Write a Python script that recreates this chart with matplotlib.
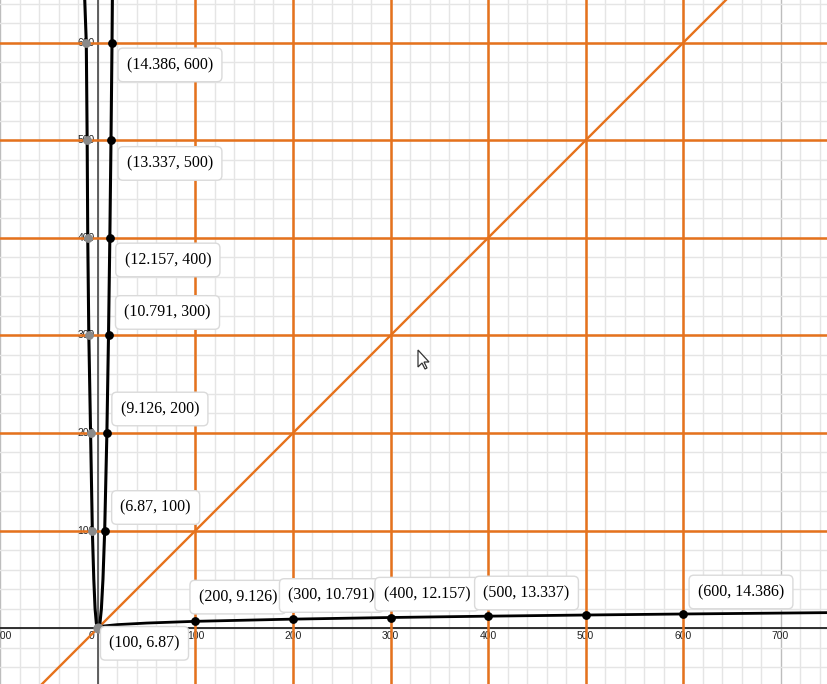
import matplotlib.pyplot as plt
from matplotlib.patches import Polygon

# values
levels = [100, 200, 300, 400, 500, 600]
f_vals = [6.87, 9.126, 10.791, 12.157, 13.337, 14.386]

# flat curve (x, f(x)) incl. estimated points near origin and at the right edge
low_x = [0, 5, 20, 50, 100, 200, 300, 400, 500, 600, 750]
low_y = [0, 2.0, 3.5, 5.1, 6.87, 9.126, 10.791, 12.157, 13.337, 14.386, 15.8]

# steep right branch is the same curve mirrored on y = x
right_x = low_y[:-1] + [14.8]
right_y = low_x[:-1] + [650]

# steep left branch
left_x = [0, -1.7, -3.0, -4.3, -5.8, -7.6, -9.4, -10.5, -11.1, -12.0, -13.8]
left_y = [0, 5, 20, 50, 100, 200, 300, 400, 500, 600, 650]

orange = '#e6721c'

fig = plt.figure(figsize=(8.28, 6.84), dpi=100)
ax = fig.add_axes([0, 0, 1, 1])
ax.set_xlim(-100.5, 748.7)
ax.set_ylim(-57.4, 644)
ax.axis('off')

# grid
for g in range(-100, 760, 20):
    c = '#bdbdbd' if g % 100 == 0 else '#e5e5e5'
    ax.axvline(g, color=c, lw=1, zorder=0)
for g in range(-40, 660, 20):
    c = '#bdbdbd' if g % 100 == 0 else '#e5e5e5'
    ax.axhline(g, color=c, lw=1, zorder=0)

# axes
ax.axhline(0, color='#222222', lw=1.3, zorder=1)
ax.axvline(0, color='#555555', lw=1.3, zorder=1)

# tick labels
tick_font = dict(fontsize=7.5, color='#222222', family='Liberation Sans', zorder=2)
for v in range(-100, 800, 100):
    if v == 0:
        continue
    ax.annotate(str(v).replace('-', '\u2212'), (v, 0), xytext=(0, -8),
                textcoords='offset pixels', ha='center', va='center', **tick_font)
ax.annotate('0', (0, 0), xytext=(-6, -8), textcoords='offset pixels',
            ha='center', va='center', **tick_font)
for v in levels:
    ax.annotate(str(v), (0, v), xytext=(-3, 0), textcoords='offset pixels',
                ha='right', va='center', **tick_font)

# orange lines
for v in levels:
    ax.axhline(v, color=orange, lw=1.8, zorder=3)
    ax.axvline(v, color=orange, lw=1.8, zorder=3)
ax.plot([-100.5, 748.7], [-100.5, 748.7], color=orange, lw=1.7, zorder=3)

# curves
ax.plot(low_x, low_y, color='black', lw=2, zorder=4)
ax.plot(right_x, right_y, color='black', lw=2.2, zorder=4)
ax.plot(left_x, left_y, color='black', lw=2.2, zorder=4)

# points
ax.scatter(levels, f_vals, s=28, color='black', zorder=5)
ax.scatter(f_vals, levels, s=28, color='black', zorder=5)
ax.scatter(left_x[4:10], levels, s=28, color='#8a8a8a', zorder=5)
ax.scatter([0], [0], s=40, color='#8a8a8a', zorder=5)

# labels
box = dict(boxstyle='round,pad=0.55,rounding_size=0.3', fc='white',
           ec='#dadada', lw=1)
vert_off = [(51, 23), (53, 24), (59, 23), (58, -22), (59, -23), (58, -22)]
for x, y, off in zip(f_vals, levels, vert_off):
    ax.annotate('(%s, %d)' % (x, y), (x, y), xytext=off,
                textcoords='offset pixels', ha='center', va='center',
                fontsize=11.5, family='Liberation Serif', bbox=box, zorder=6)
hor_off = [(-51, -22), (-55, 22), (-59, 22), (-61, 22), (-59, 22), (58, 22)]
for x, y, off in zip(levels, f_vals, hor_off):
    ax.annotate('(%d, %s)' % (x, y), (x, y), xytext=off,
                textcoords='offset pixels', ha='center', va='center',
                fontsize=11.5, family='Liberation Serif', bbox=box, zorder=6)

# mouse pointer
tip_x, tip_y = 418, 350
arrow = [(0, 0), (0, 17), (4, 13), (7, 19), (9, 18), (6, 12), (11, 12)]
pts = [((tip_x + dx) / 828, 1 - (tip_y + dy) / 684) for dx, dy in arrow]
fig.patches.append(Polygon(pts, closed=True, fc='white', ec='#333333',
                           lw=0.9, transform=fig.transFigure, zorder=10))

fig.savefig('out.png', dpi=100)
